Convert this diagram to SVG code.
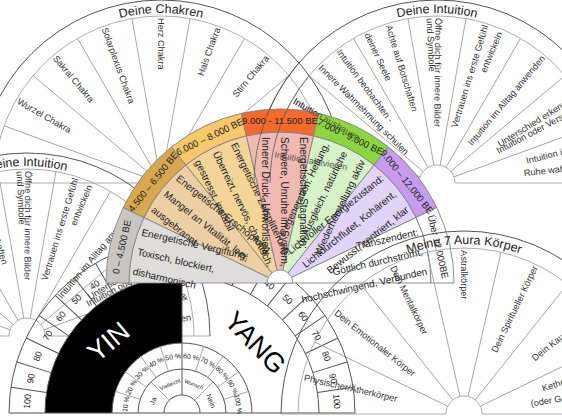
<svg xmlns="http://www.w3.org/2000/svg" width="562" height="418" viewBox="0 0 562 418">
<style>
.ln{stroke:#9a9a9a;stroke-width:0.8;fill:none}
.arc{stroke:#555;stroke-width:1;fill:none}
.arc2{stroke:#999;stroke-width:0.8;fill:none}
.lab{font-family:'Liberation Sans',Arial,sans-serif;font-size:9.2px;fill:#333}
.ttl{font-family:'Liberation Sans',Arial,sans-serif;font-size:12.5px;fill:#222}
.cf{font-family:'Liberation Sans Narrow','Liberation Sans',sans-serif;font-size:10px;fill:#222}
.bd{font-family:'Liberation Sans Narrow','Liberation Sans',sans-serif;font-size:9.5px;fill:#222}
.sc{font-family:'Liberation Sans',sans-serif;font-size:9px;fill:#222;text-anchor:middle}
.pc{font-family:'Liberation Sans',sans-serif;font-size:7px;fill:#222;text-anchor:middle}
.seg{stroke:#808080;stroke-width:0.8}
.e{text-anchor:end}
</style>
<defs>
<path id="t170" d="M-170 0A170 170 0 0 1 170 0"/>
<path id="bandW" d="M-174 0A174 174 0 0 1 -156.77 -75.50L-136.05 -65.52A151 151 0 0 0 -151 0Z"/>
<path id="inW" d="M-151 0A151 151 0 0 1 -136.05 -65.52L0 0Z"/>
<g id="intu">
 <path class="arc" d="M-183 0A183 183 0 0 1 183 0"/>
 <path class="arc2" d="M-167 0A167 167 0 0 1 167 0M-18 0A18 18 0 0 1 18 0"/>
 <path class="ln" d="M-183 0H-18M18 0H183"/>
 <g class="ln">
  <line x1="-18" y1="0" x2="-167" y2="0" transform="rotate(20)"/>
  <line x1="-18" y1="0" x2="-167" y2="0" transform="rotate(40)"/>
  <line x1="-18" y1="0" x2="-167" y2="0" transform="rotate(60)"/>
  <line x1="-18" y1="0" x2="-167" y2="0" transform="rotate(80)"/>
  <line x1="-18" y1="0" x2="-167" y2="0" transform="rotate(100)"/>
  <line x1="-18" y1="0" x2="-167" y2="0" transform="rotate(120)"/>
  <line x1="-18" y1="0" x2="-167" y2="0" transform="rotate(140)"/>
  <line x1="-18" y1="0" x2="-167" y2="0" transform="rotate(160)"/>
 </g>
 <text class="ttl"><textPath href="#t170" startOffset="50%" text-anchor="middle">Deine Intuition</textPath></text>
 <g class="lab">
  <text transform="rotate(10)" x="-165" y="3.2">Intuition aktivieren</text>
  <text transform="rotate(30)" x="-165" y="3.2">Intuition ausbauen</text>
  <text transform="rotate(45)" x="-165" y="3.2">Innere Wahrnehmung schulen</text>
  <text transform="rotate(53.5)" x="-165" y="3.2">Intuition beobachten -</text>
  <text transform="rotate(65)" x="-165" y="3.2">deiner Seele</text>
  <text transform="rotate(73)" x="-165" y="3.2">Achte auf Botschaften</text>
  <text transform="rotate(87.5)" x="-165" y="3.2">und Symbole</text>
  <text transform="rotate(90.5)" x="-165" y="3.2">Öffne dich für innere Bilder</text>
  <text class="e" transform="rotate(-73)" x="165" y="3.2">Vertrauen ins erste Gefühl</text>
  <text class="e" transform="rotate(-67.5)" x="163" y="3.2">entwickeln</text>
  <text class="e" transform="rotate(-50)" x="165" y="3.2">Intuition im Alltag anwenden</text>
  <text class="e" transform="rotate(-32)" x="165" y="3.2">Unterschied erkennen:</text>
  <text class="e" transform="rotate(-28)" x="165" y="3.2">Intuition oder Verstand?</text>
  <text class="e" transform="rotate(-14)" x="165" y="3.2">Intuition in Stille &amp;</text>
  <text class="e" transform="rotate(-6.5)" x="165" y="3.2">Ruhe wahrnehmen</text>
 </g>
</g>
</defs>

<g id="chakren" transform="translate(161,183)">
 <path class="arc" d="M-183 0A183 183 0 0 1 183 0"/>
 <path class="arc2" d="M-167 0A167 167 0 0 1 167 0"/>
 <path class="ln" d="M-183 0H183"/>
 <g class="ln">
  <line x1="-16" y1="0" x2="-167" y2="0" transform="rotate(20)"/>
  <line x1="-16" y1="0" x2="-167" y2="0" transform="rotate(40)"/>
  <line x1="-16" y1="0" x2="-167" y2="0" transform="rotate(60)"/>
  <line x1="-16" y1="0" x2="-167" y2="0" transform="rotate(80)"/>
  <line x1="-16" y1="0" x2="-167" y2="0" transform="rotate(100)"/>
  <line x1="-16" y1="0" x2="-167" y2="0" transform="rotate(120)"/>
  <line x1="-16" y1="0" x2="-167" y2="0" transform="rotate(140)"/>
  <line x1="-16" y1="0" x2="-167" y2="0" transform="rotate(160)"/>
 </g>
 <text class="ttl"><textPath href="#t170" startOffset="50%" text-anchor="middle">Deine Chakren</textPath></text>
 <g class="lab">
  <text transform="rotate(30)" x="-165" y="3.2">Wurzel Chakra</text>
  <text transform="rotate(50)" x="-165" y="3.2">Sakral Chakra</text>
  <text transform="rotate(70)" x="-165" y="3.2">Solarplexus Chakra</text>
  <text transform="rotate(90)" x="-165" y="3.2">Herz Chakra</text>
  <text class="e" transform="rotate(-70)" x="165" y="3.2">Hals Chakra</text>
  <text class="e" transform="rotate(-50)" x="165" y="3.2">Stirn Chakra</text>
 </g>
</g>

<use id="intuition-links" href="#intu" transform="translate(27,336)"/>
<use id="intuition-rechts" href="#intu" transform="translate(437,183)"/>

<g id="yinyang" transform="translate(182,413)">
 <path d="M-137 0A137 137 0 0 1 0 -137L0 -70A70 70 0 0 0 -70 0Z" fill="#000"/>
 <path class="arc" d="M-173 0A173 173 0 0 1 173 0M-137 0A137 137 0 0 1 137 0M-70 0A70 70 0 0 1 70 0M-44 0A44 44 0 0 1 44 0M-18 0A18 18 0 0 1 18 0M-173 0H173M0 -18V-137"/>
 <g class="ln">
  <line x1="-18" y1="0" x2="-44" y2="0" transform="rotate(45)"/>
  <line x1="-18" y1="0" x2="-44" y2="0" transform="rotate(135)"/>
  <line x1="-44" y1="0" x2="-70" y2="0" transform="rotate(18)"/>
  <line x1="-44" y1="0" x2="-70" y2="0" transform="rotate(36)"/>
  <line x1="-44" y1="0" x2="-70" y2="0" transform="rotate(54)"/>
  <line x1="-44" y1="0" x2="-70" y2="0" transform="rotate(72)"/>
  <line x1="-44" y1="0" x2="-70" y2="0" transform="rotate(108)"/>
  <line x1="-44" y1="0" x2="-70" y2="0" transform="rotate(126)"/>
  <line x1="-44" y1="0" x2="-70" y2="0" transform="rotate(144)"/>
  <line x1="-44" y1="0" x2="-70" y2="0" transform="rotate(162)"/>
 </g>
 <g class="arc">
  <line x1="-137" y1="0" x2="-173" y2="0" transform="rotate(8.571)"/>
  <line x1="-137" y1="0" x2="-173" y2="0" transform="rotate(17.143)"/>
  <line x1="-137" y1="0" x2="-173" y2="0" transform="rotate(25.714)"/>
  <line x1="-137" y1="0" x2="-173" y2="0" transform="rotate(34.286)"/>
  <line x1="-137" y1="0" x2="-173" y2="0" transform="rotate(42.857)"/>
  <line x1="-137" y1="0" x2="-173" y2="0" transform="rotate(51.429)"/>
  <line x1="-137" y1="0" x2="-173" y2="0" transform="rotate(60)"/>
  <line x1="-137" y1="0" x2="-173" y2="0" transform="rotate(68.571)"/>
  <line x1="-137" y1="0" x2="-173" y2="0" transform="rotate(77.143)"/>
  <line x1="-137" y1="0" x2="-173" y2="0" transform="rotate(85.714)"/>
  <line x1="-137" y1="0" x2="-173" y2="0" transform="rotate(94.286)"/>
  <line x1="-137" y1="0" x2="-173" y2="0" transform="rotate(102.857)"/>
  <line x1="-137" y1="0" x2="-173" y2="0" transform="rotate(111.429)"/>
  <line x1="-137" y1="0" x2="-173" y2="0" transform="rotate(120)"/>
  <line x1="-137" y1="0" x2="-173" y2="0" transform="rotate(128.571)"/>
  <line x1="-137" y1="0" x2="-173" y2="0" transform="rotate(137.143)"/>
  <line x1="-137" y1="0" x2="-173" y2="0" transform="rotate(145.714)"/>
  <line x1="-137" y1="0" x2="-173" y2="0" transform="rotate(154.286)"/>
  <line x1="-137" y1="0" x2="-173" y2="0" transform="rotate(162.857)"/>
  <line x1="-137" y1="0" x2="-173" y2="0" transform="rotate(171.429)"/>
 </g>
 <g class="sc">
  <text transform="rotate(-85.71)" y="-152">100</text>
  <text transform="rotate(-77.14)" y="-152">90</text>
  <text transform="rotate(-68.57)" y="-152">80</text>
  <text transform="rotate(-60)" y="-152">70</text>
  <text transform="rotate(-51.43)" y="-152">60</text>
  <text transform="rotate(-42.86)" y="-152">50</text>
  <text transform="rotate(-34.29)" y="-152">40</text>
  <text transform="rotate(-25.71)" y="-152">30</text>
  <text transform="rotate(-17.14)" y="-152">20</text>
  <text transform="rotate(-8.57)" y="-152">10</text>
  <text transform="rotate(0)" y="-152">0</text>
  <text transform="rotate(8.57)" y="-152">10</text>
  <text transform="rotate(17.14)" y="-152">20</text>
  <text transform="rotate(25.71)" y="-152">30</text>
  <text transform="rotate(34.29)" y="-152">40</text>
  <text transform="rotate(42.86)" y="-152">50</text>
  <text transform="rotate(51.43)" y="-152">60</text>
  <text transform="rotate(60)" y="-152">70</text>
  <text transform="rotate(68.57)" y="-152">80</text>
  <text transform="rotate(77.14)" y="-152">90</text>
  <text transform="rotate(85.71)" y="-152">100</text>
 </g>
 <g class="pc">
  <text transform="rotate(-81)" y="-54.5">10 %</text>
  <text transform="rotate(-63)" y="-54.5">20 %</text>
  <text transform="rotate(-45)" y="-54.5">30 %</text>
  <text transform="rotate(-27)" y="-54.5">40 %</text>
  <text transform="rotate(-9)" y="-54.5">50 %</text>
  <text transform="rotate(9)" y="-54.5">60 %</text>
  <text transform="rotate(27)" y="-54.5">70 %</text>
  <text transform="rotate(45)" y="-54.5">80 %</text>
  <text transform="rotate(63)" y="-54.5">90 %</text>
  <text transform="rotate(81)" y="-54.5">100 %</text>
  <text transform="rotate(-67.5)" y="-29">Ja</text>
  <text transform="rotate(-22.5)" y="-29" font-size="5.5">Vielleicht</text>
  <text transform="rotate(22.5)" y="-29" font-size="5.5">Wunsch</text>
  <text transform="rotate(67.5)" y="-29">Nein</text>
 </g>
</g>
<text transform="translate(108,341) rotate(-40)" y="10" text-anchor="middle" font-family="'Liberation Sans',sans-serif" font-size="27" fill="#fff">YIN</text>
<text transform="translate(256,342) rotate(46)" y="10" text-anchor="middle" font-family="'Liberation Sans',sans-serif" font-size="27" fill="#000">YANG</text>

<g id="energie" transform="translate(280,283)">
 <g class="seg">
  <use href="#inW" fill="#dfdddc"/>
  <use href="#bandW" fill="#c8c5c3"/>
  <use href="#inW" fill="#ecd0a4" transform="rotate(25.714)"/>
  <use href="#bandW" fill="#d8a84e" transform="rotate(25.714)"/>
  <use href="#inW" fill="#f3d598" transform="rotate(51.429)"/>
  <use href="#bandW" fill="#f7c96b" transform="rotate(51.429)"/>
  <use href="#inW" fill="#f0b9b1" transform="rotate(77.143)"/>
  <use href="#bandW" fill="#f46a2c" transform="rotate(77.143)"/>
  <use href="#inW" fill="#d6f2c6" transform="rotate(102.857)"/>
  <use href="#bandW" fill="#8cd640" transform="rotate(102.857)"/>
  <use href="#inW" fill="#e2d4f9" transform="rotate(128.571)"/>
  <use href="#bandW" fill="#c79cef" transform="rotate(128.571)"/>
  <use href="#inW" fill="#ffffff" transform="rotate(154.286)"/>
  <use href="#bandW" fill="#ffffff" transform="rotate(154.286)"/>
  <path d="M-13 0A13 13 0 0 1 13 0Z" fill="#fff"/>
 </g>
 <g class="bd" text-anchor="middle">
  <text transform="rotate(-77.14)" y="-159">0 – 4.500 BE</text>
  <text transform="rotate(-51.43)" y="-159">4.500 – 6.500 BE</text>
  <text transform="rotate(-25.71)" y="-159">6.000 – 8.000  BE</text>
  <text y="-159">9.000 - 11.500 BE</text>
  <text transform="rotate(25.71)" y="-159">7.000 - 9.000 BE</text>
  <text transform="rotate(51.43)" y="-159">9.000 – 12.000 BE</text>
  <text transform="rotate(77.14)" y="-159">Über 12.000BE</text>
 </g>
 <g class="cf">
  <g transform="rotate(12.86)"><text x="-146" y="-15.5">Energetische Vergiftung:</text><text x="-146" y="4.5">Toxisch, blockiert,</text><text x="-146" y="24.5">disharmonisch</text></g>
  <g transform="rotate(38.57)"><text x="-146" y="-15.5">Energetische Erschöpfung;</text><text x="-146" y="4.5">Mangel an Vitalität, leer,</text><text x="-146" y="24.5">ausgebrannt</text></g>
  <g transform="rotate(64.29)"><text x="-146" y="-15.5">Energetische Zersplitterung;</text><text x="-146" y="4.5">Überreizt, nervös, chaotisch,</text><text x="-146" y="24.5">gestresst, instabil</text></g>
  <g transform="rotate(90)"><text x="-146" y="-20">Energetische Stagnation;</text><text x="-146" y="-1">Schwere, Unruhe im System,</text><text x="-146" y="18">Innerer Druck, Unwohlsein</text></g>
  <g transform="rotate(-64.29)" text-anchor="end"><text x="146" y="-15.5">Regeneration: Heilung,</text><text x="146" y="4.5">Ausgleich, natürliche</text><text x="146" y="24.5">Wiederherstellung aktiv</text></g>
  <g transform="rotate(-38.57)" text-anchor="end"><text x="146" y="-15.5">Lichtvoller Energiezustand:</text><text x="146" y="4.5">Lichtdurchflutet, Kohärent,</text><text x="146" y="24.5">Bewusst, zentriert, klar</text></g>
  <g transform="rotate(-12.86)" text-anchor="end"><text x="146" y="-15.5">Transzendent:</text><text x="146" y="4.5">Göttlich durchströmt,</text><text x="146" y="24.5">hochschwingend, Verbunden</text></g>
 </g>
</g>

<g id="intuition-ueberlagerung" opacity="0.75">
 <path class="arc" d="M254 183A183 183 0 0 1 296.8 65.4M270 183A167 167 0 0 1 309.1 75.7"/>
 <g class="lab" transform="translate(437,183)">
  <text transform="rotate(10)" x="-165" y="3.2">Intuition aktivieren</text>
  <text transform="rotate(30)" x="-165" y="3.2">Intuition ausbauen</text>
 </g>
</g>

<g id="aura" transform="translate(464,414)">
 <path class="arc" d="M-183 0A183 183 0 0 1 183 0"/>
 <path class="arc2" d="M-166 0A166 166 0 0 1 166 0M-18 0A18 18 0 0 1 18 0"/>
 <path class="ln" d="M-183 0H-18M18 0H183"/>
 <g class="ln">
  <line x1="-18" y1="0" x2="-166" y2="0" transform="rotate(25.714)"/>
  <line x1="-18" y1="0" x2="-166" y2="0" transform="rotate(51.429)"/>
  <line x1="-18" y1="0" x2="-166" y2="0" transform="rotate(77.143)"/>
  <line x1="-18" y1="0" x2="-166" y2="0" transform="rotate(102.857)"/>
  <line x1="-18" y1="0" x2="-166" y2="0" transform="rotate(128.571)"/>
  <line x1="-18" y1="0" x2="-166" y2="0" transform="rotate(154.286)"/>
 </g>
 <text class="ttl"><textPath href="#t170" startOffset="50%" text-anchor="middle">Meine 7 Aura Körper</textPath></text>
 <g class="lab">
  <text transform="rotate(12.86)" x="-164" y="3.2">Physischer/Ätherkörper</text>
  <text transform="rotate(38.57)" x="-164" y="3.2">Dein Emotionaler Körper</text>
  <text transform="rotate(64.29)" x="-164" y="3.2">Dein Mentalkörper</text>
  <text transform="rotate(90)" x="-164" y="3.2">Astralkörper</text>
  <text class="e" transform="rotate(-64.29)" x="164" y="3.2">Dein Spiritueller Körper</text>
  <text class="e" transform="rotate(-38.57)" x="164" y="3.2">Dein Kausalkörper</text>
  <text class="e" transform="rotate(-18)" x="164" y="3.2">Ketherischer Körper</text>
  <text class="e" transform="rotate(-9)" x="164" y="3.2">(oder Göttlicher Körper)</text>
 </g>
</g>
</svg>
